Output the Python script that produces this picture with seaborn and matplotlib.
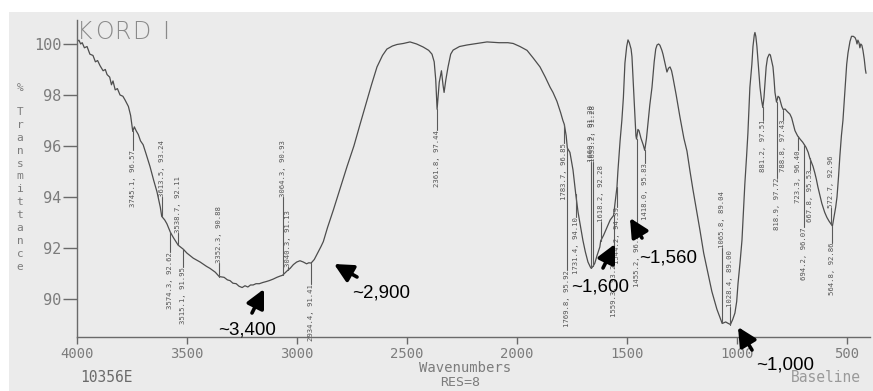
import numpy as np
import pandas as pd
import seaborn as sns
import matplotlib.pyplot as plt
from matplotlib.patches import Rectangle

# ---------------- data ----------------
wavenumber = [3998, 3990, 3982, 3975, 3965, 3953, 3940, 3926, 3915, 3905, 3894, 3880, 3870, 3862,
              3850, 3842, 3835, 3825, 3815, 3803, 3790, 3780, 3765, 3755, 3745.1, 3738, 3730, 3720,
              3710, 3698, 3685, 3667, 3650, 3635, 3620, 3613.5, 3600, 3590, 3574.3, 3560, 3545,
              3538.7, 3515.1, 3499, 3470, 3439, 3410, 3394, 3370, 3352.3, 3330, 3315, 3303, 3290,
              3275, 3262, 3248, 3235, 3222, 3210, 3198, 3185, 3170, 3153, 3140, 3125, 3107, 3090,
              3075, 3064.3, 3050, 3040.3, 3030, 3015, 3000, 2985, 2970, 2955, 2945, 2934.4, 2920,
              2902, 2890, 2879, 2860, 2833, 2800, 2771, 2740, 2712, 2690, 2660, 2635, 2610, 2590,
              2565, 2544, 2515, 2485, 2455, 2425, 2400, 2385, 2375, 2368, 2361.8, 2352, 2342, 2335,
              2330, 2322, 2312, 2300, 2289, 2260, 2226, 2180, 2135, 2080, 2040, 2016, 1985, 1953,
              1925, 1894, 1870, 1848, 1835, 1825, 1817, 1800, 1790, 1783.7, 1775, 1769.8, 1758,
              1744, 1731.4, 1721, 1710, 1699, 1688, 1676, 1665, 1660.9, 1653.2, 1645, 1635, 1622,
              1618.2, 1605, 1590, 1575, 1559.3, 1553, 1544.2, 1540, 1530, 1522, 1515, 1508, 1500,
              1494, 1488, 1480, 1476, 1471, 1465, 1458, 1455.2, 1449, 1444, 1435, 1425, 1418.0,
              1410, 1403, 1395, 1385, 1375, 1368, 1362, 1355, 1349, 1340, 1335, 1325, 1317, 1310,
              1303, 1296, 1290, 1275, 1258, 1240, 1226, 1212, 1199, 1185, 1167, 1150, 1135, 1113,
              1090, 1075, 1065.8, 1050, 1040, 1028.4, 1018, 1008, 1000, 994, 985, 976, 963, 955,
              949, 940, 931, 926, 920, 917, 913, 908, 900, 894, 887, 881.2, 876, 872, 866, 860,
              852, 847, 840, 835, 830, 826, 821, 818.9, 812, 806, 800, 795, 788.8, 780, 770, 758,
              750, 744, 735, 726, 723.3, 710, 700, 694.2, 685, 675, 667.8, 660, 653, 645, 638, 631,
              620, 613, 600, 590, 580, 572.7, 564.8, 558, 550, 544, 537, 531, 524, 517, 508, 500,
              494, 485, 478, 470, 462, 457, 453, 449, 444, 440, 436, 431, 426, 420, 415, 412]
transmittance = [100.10, 100.15, 100.00, 100.05, 99.85, 99.90, 99.60, 99.55, 99.30, 99.35, 99.15,
                 98.95, 99.00, 98.80, 98.70, 98.40, 98.55, 98.20, 98.25, 98.00, 97.95, 97.80,
                 97.55, 97.20, 96.57, 96.75, 96.60, 96.45, 96.20, 96.05, 95.70, 95.20, 94.65,
                 94.20, 93.60, 93.24, 93.10, 92.95, 92.62, 92.40, 92.20, 92.11, 91.95, 91.80,
                 91.60, 91.45, 91.28, 91.20, 91.05, 90.88, 90.85, 90.75, 90.72, 90.62, 90.60,
                 90.50, 90.45, 90.52, 90.47, 90.55, 90.55, 90.60, 90.60, 90.65, 90.68, 90.72,
                 90.78, 90.85, 90.90, 90.93, 91.05, 91.13, 91.20, 91.35, 91.45, 91.50, 91.45,
                 91.38, 91.42, 91.41, 91.55, 91.85, 92.05, 92.25, 92.80, 93.50, 94.40, 95.20,
                 96.00, 96.85, 97.50, 98.40, 99.10, 99.55, 99.80, 99.92, 99.98, 100.02, 100.08,
                 100.00, 99.88, 99.75, 99.60, 99.30, 98.60, 97.44, 98.50, 98.95, 98.40, 98.10,
                 98.60, 99.10, 99.60, 99.76, 99.90, 99.96, 100.02, 100.08, 100.05, 100.05, 100.02,
                 99.90, 99.75, 99.45, 99.10, 98.70, 98.30, 98.10, 97.90, 97.75, 97.30, 97.00,
                 96.85, 96.40, 95.92, 95.75, 95.06, 94.10, 93.40, 92.85, 92.30, 91.85, 91.45,
                 91.25, 91.20, 91.28, 91.40, 91.70, 92.04, 92.28, 92.50, 92.80, 93.10, 93.28,
                 93.76, 94.39, 95.00, 96.20, 97.00, 97.90, 99.25, 99.90, 100.16, 100.05, 99.80,
                 99.50, 98.60, 97.60, 96.40, 96.27, 96.65, 96.60, 96.30, 96.05, 95.83, 96.30,
                 96.90, 97.60, 98.30, 99.30, 99.80, 99.96, 100.00, 99.95, 99.75, 99.60, 99.20,
                 98.90, 99.05, 99.10, 98.95, 98.70, 98.00, 97.14, 96.30, 95.80, 95.00, 94.30,
                 93.60, 92.70, 91.80, 91.20, 90.30, 89.60, 89.25, 89.04, 89.10, 89.05, 89.00,
                 89.20, 89.45, 89.90, 90.60, 91.40, 92.30, 94.50, 95.60, 96.50, 98.30, 99.20,
                 99.90, 100.35, 100.45, 100.30, 99.90, 99.00, 98.30, 97.80, 97.51, 97.90, 98.40,
                 99.10, 99.45, 99.60, 99.57, 99.30, 99.10, 98.60, 98.10, 97.85, 97.72, 97.95,
                 97.90, 97.70, 97.55, 97.43, 97.45, 97.35, 97.25, 97.10, 96.90, 96.60, 96.45,
                 96.40, 96.25, 96.15, 96.07, 95.95, 95.75, 95.53, 95.35, 95.20, 94.95, 94.70,
                 94.40, 94.00, 93.75, 93.40, 93.20, 93.05, 92.96, 92.86, 93.20, 93.60, 94.00,
                 94.80, 95.60, 96.40, 97.00, 98.20, 99.20, 99.65, 100.10, 100.30, 100.30, 100.25,
                 100.15, 100.00, 100.15, 100.05, 99.85, 100.00, 99.95, 99.75, 99.40, 99.00, 98.85]

peak_wn = [3745.1, 3613.5, 3574.3, 3538.7, 3515.1, 3352.3, 3064.3, 3040.3, 2934.4, 2361.8,
           1783.7, 1769.8, 1731.4, 1660.9, 1653.2, 1618.2, 1559.3, 1544.2, 1455.2, 1418.0,
           1065.8, 1028.4, 881.2, 818.9, 788.8, 723.3, 694.2, 667.8, 572.7, 564.8]
peak_T = [96.57, 93.24, 92.62, 92.11, 91.95, 90.88, 90.93, 91.13, 91.41, 97.44,
          96.85, 95.92, 94.10, 91.20, 91.28, 92.28, 93.28, 94.39, 96.27, 95.83,
          89.04, 89.00, 97.51, 97.72, 97.43, 96.40, 96.07, 95.53, 92.96, 92.86]

x_ticks = [4000, 3500, 3000, 2500, 2000, 1500, 1000, 500]
x_tick_labels = ["4000", "3500", "3000", "2500", "2000", "1500", "1000", "500"]
y_ticks = [90, 92, 94, 96, 98, 100]
y_tick_labels = ["90", "92", "94", "96", "98", "100"]

callout_texts = ["~3,400", "~2,900", "~1,600", "~1,560", "~1,000"]

# ---------------- layout (not data) ----------------
label_anchor = [95.84, 94.00, 91.84, 92.59, 91.25, 91.41, 94.00, 91.25, 90.59, 96.63,
                96.12, 91.14, 93.22, 95.37, 95.37, 93.02, 91.53, 93.61, 92.71, 95.33,
                92.00, 89.69, 97.02, 94.75, 97.02, 95.84, 92.82, 95.06, 93.57, 92.20]
label_side = ["below", "above", "below", "above", "below", "above", "above", "above", "below", "below",
              "below", "below", "below", "above", "above", "above", "below", "below", "below", "below",
              "above", "above", "below", "below", "below", "below", "below", "below", "above", "below"]
callout_heads = [(264, 289), (334, 264), (615, 244), (630, 218), (738, 327)]
callout_tails = [(252, 313), (357, 277), (603, 268), (642, 238), (752, 350)]
callout_text_pos = [(247, 330), (381, 293), (600, 287), (668, 258), (785, 365)]

W, H = 873, 391
GRAY = "#7c7c7c"
LINE = "#4d4d4d"

sns.set_theme(style="ticks")
plt.rcParams["font.family"] = ["DejaVu Sans Mono", "DejaVu Sans"]

fig = plt.figure(figsize=(W / 100, H / 100), dpi=100, facecolor="white")
fig.patches.append(Rectangle((9 / W, 0), 1, (H - 12) / H, transform=fig.transFigure,
                             facecolor="#ebebeb", edgecolor="none", zorder=-10))

ax = fig.add_axes([76.7 / W, 1 - 337 / H, (870 - 76.7) / W, (337 - 20) / H])
ax.patch.set_alpha(0)

df = pd.DataFrame({"Wavenumber": wavenumber, "T": transmittance})
sns.lineplot(data=df, x="Wavenumber", y="T", sort=False, estimator=None,
             color=LINE, lw=0.9, ax=ax)

ax.set_xlim(4000, 394)
ax.set_ylim(88.51, 100.94)
for s in ["top", "right"]:
    ax.spines[s].set_visible(False)
for s in ["left", "bottom"]:
    ax.spines[s].set_color("#6a6a6a")
    ax.spines[s].set_linewidth(1.0)
ax.set_xticks(x_ticks)
ax.set_xticklabels(x_tick_labels)
ax.set_yticks(y_ticks)
ax.set_yticklabels(y_tick_labels)
ax.tick_params(axis="x", direction="out", length=5, width=1, color="#6a6a6a",
               labelsize=10, labelcolor=GRAY, pad=2)
ax.tick_params(axis="y", direction="out", length=10, width=1, color="#6a6a6a",
               labelsize=11, labelcolor=GRAY, pad=1)
ax.set_xlabel("")
ax.set_ylabel("")

# peak labels
for wn, t, anc, side in zip(peak_wn, peak_T, label_anchor, label_side):
    ax.plot([wn, wn], [t, anc], color="#5a5a5a", lw=0.8)
    txt = f"{wn:.1f}, {t:.2f}"
    ax.text(wn, anc, txt, rotation=90, fontsize=5.2, color="#555555",
            ha="center", va="top" if side == "below" else "bottom",
            family=["DejaVu Sans Mono"])

# callouts
for txt, hd, tl, tp in zip(callout_texts, callout_heads, callout_tails, callout_text_pos):
    ax.annotate("", xy=(hd[0], H - hd[1]), xytext=(tl[0], H - tl[1]),
                xycoords="figure pixels", textcoords="figure pixels",
                arrowprops=dict(arrowstyle="-|>,head_length=0.8,head_width=0.4",
                                mutation_scale=14, lw=2.6, color="black",
                                shrinkA=0, shrinkB=0))
    fig.text(tp[0] / W, 1 - tp[1] / H, txt, fontsize=13.5, color="black",
             ha="center", va="center", family=["Liberation Sans", "DejaVu Sans"])

# header / footer texts
for ch, cx in zip("KORDI", [85, 104, 122, 141, 166]):
    fig.text(cx / W, 1 - 32 / H, ch, fontsize=17, color="#8a8a8a", ha="center",
             va="center", family=["DejaVu Sans"], fontweight="light")

fig.text(20 / W, 1 - 88 / H, "%", fontsize=8, color=GRAY, ha="center", va="center")
for i, ch in enumerate("Transmittance"):
    fig.text(20 / W, 1 - (112 + i * 12.9) / H, ch, fontsize=8, color=GRAY,
             ha="center", va="center")

fig.text(465 / W, 1 - 368 / H, "Wavenumbers", fontsize=10, color=GRAY, ha="center", va="center")
fig.text(106 / W, 1 - 378 / H, "10356E", fontsize=10.5, color="#6a6a6a", ha="center", va="center")
fig.text(460 / W, 1 - 383 / H, "RES=8", fontsize=9.5, color=GRAY, ha="center", va="center")
fig.text(826 / W, 1 - 377 / H, "Baseline", fontsize=10.5, color="#9a9a9a", ha="center", va="center")

fig.savefig("out.png", dpi=100, facecolor=fig.get_facecolor())
